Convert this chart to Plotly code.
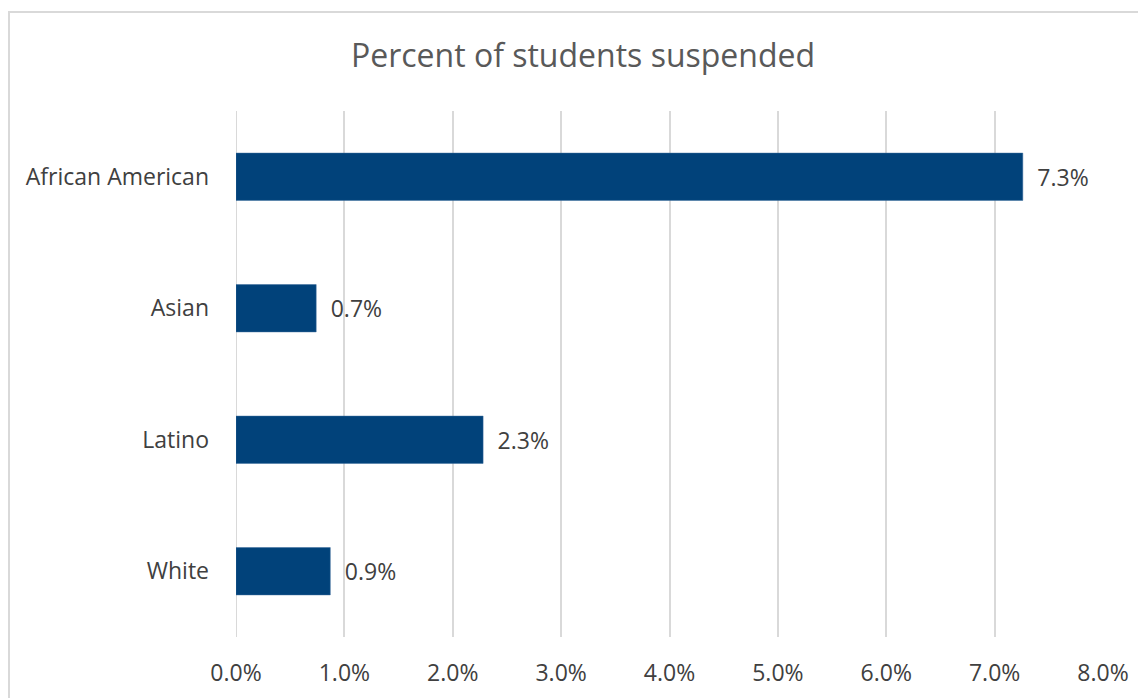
import plotly.graph_objects as go

categories = ["African American", "Asian", "Latino", "White"]
values = [0.0726, 0.0074, 0.0228, 0.0087]
x_ticks = [0, 0.01, 0.02, 0.03, 0.04, 0.05, 0.06, 0.07, 0.08]
x_tick_labels = ["0.0%", "1.0%", "2.0%", "3.0%", "4.0%", "5.0%", "6.0%", "7.0%", "8.0%"]
title_text = "Percent of students suspended"

FONT = "'Open Sans', sans-serif"
OFF = 8  # page body margin offset

W, H = 1146, 698
L, T = 236 - OFF, 111 - OFF
PW, PH = 867, 526
R = W - L - PW
B = H - T - PH

fig = go.Figure(go.Bar(
    y=categories,
    x=values,
    orientation="h",
    marker=dict(color="#01427A", line=dict(color="#3a6a9a", width=0.5)),
    texttemplate="\u2002%{x:.1%}",
    textposition="outside",
    textfont=dict(family=FONT, size=23, color="#404040"),
    cliponaxis=False,
    hoverinfo="skip",
))

fig.update_layout(
    width=W, height=H,
    margin=dict(l=L, r=R, t=T, b=B),
    paper_bgcolor="white", plot_bgcolor="white",
    showlegend=False,
    bargap=0.64,
    title=dict(text=title_text, x=(583 - OFF) / W, xanchor="center", xref="container",
               y=1 - (56 - OFF) / H, yanchor="middle", yref="container",
               font=dict(family=FONT, size=32, color="#595959")),
    xaxis=dict(range=[0, 0.08], tickvals=x_ticks, ticktext=x_tick_labels,
               showgrid=True, gridcolor="#d9d9d9", gridwidth=2,
               zeroline=False, showline=False, ticks="",
               ticklabelstandoff=20,
               tickfont=dict(family=FONT, size=23, color="#404040")),
    yaxis=dict(autorange="reversed", showgrid=False, zeroline=False, showline=False,
               ticks="", ticklabelstandoff=26,
               tickfont=dict(family=FONT, size=23, color="#404040")),
    shapes=[
        dict(type="line", xref="paper", yref="paper",
             x0=-L / PW, x1=1.2, y0=1 + (T - 4) / PH, y1=1 + (T - 4) / PH,
             line=dict(color="#d9d9d9", width=2)),
        dict(type="line", xref="paper", yref="paper",
             x0=-(L - 1) / PW, x1=-(L - 1) / PW, y0=1 + (T - 4) / PH, y1=-0.3,
             line=dict(color="#d9d9d9", width=2)),
        dict(type="line", xref="x", yref="paper", x0=0, x1=0, y0=0, y1=1,
             line=dict(color="#d9d9d9", width=2), layer="below"),
    ],
)

fig.write_html("out.html")
